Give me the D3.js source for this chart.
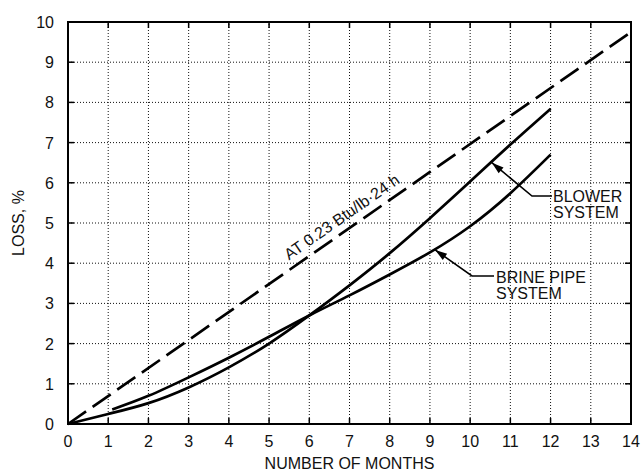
<!DOCTYPE html>
<html lang="en">
<head>
<meta charset="UTF-8">
<title>Loss vs months</title>
<script src="https://d3js.org/d3.v7.min.js"></script>
<style>
  body { margin: 0; background: #fff; }
  svg { display: block; font-family: "Liberation Sans", Arial, sans-serif; }
  .tick-label { font-size: 16px; fill: #111; }
  .grid line { stroke: #111; stroke-width: 1; stroke-dasharray: 1,2; }
  .curve { fill: none; stroke: #000; stroke-width: 2.7; }
</style>
</head>
<body>
<div id="chart"></div>
<script>
// data
const xTicks = d3.range(0, 15);
const yTicks = d3.range(0, 11);

const blowerMonths = [0, 1, 2, 3, 4, 5, 6, 7, 8, 9, 10, 11, 12];
const blowerLoss   = [0, 0.25, 0.52, 0.91, 1.41, 2.0, 2.7, 3.45, 4.25, 5.12, 6.03, 6.95, 7.84];

const brineMonths = [1.1, 2, 3, 4, 5, 6, 7, 8, 9, 10, 11, 12];
const brineLoss   = [0.36, 0.7, 1.16, 1.65, 2.17, 2.7, 3.2, 3.72, 4.27, 4.92, 5.74, 6.7];

const refMonths = [0, 14];
const refLoss   = [0, 9.75];

const width = 642, height = 471;
const margin = {top: 22, right: 11, bottom: 47, left: 68};

const svg = d3.select("#chart").append("svg")
    .attr("width", width)
    .attr("height", height);

const x = d3.scaleLinear().domain([0, 14]).range([margin.left, width - margin.right]);
const y = d3.scaleLinear().domain([0, 10]).range([height - margin.bottom, margin.top]);

// dotted grid
const grid = svg.append("g").attr("class", "grid");
grid.selectAll(".gx").data(xTicks.slice(1, -1)).enter().append("line")
    .attr("x1", d => x(d)).attr("x2", d => x(d))
    .attr("y1", y(0)).attr("y2", y(10));
grid.selectAll(".gy").data(yTicks.slice(1, -1)).enter().append("line")
    .attr("x1", x(0)).attr("x2", x(14))
    .attr("y1", d => y(d)).attr("y2", d => y(d));

// inward ticks on all four sides
const tk = 6;
const ticks = svg.append("g").attr("stroke", "#000").attr("stroke-width", 1.5);
xTicks.slice(1, -1).forEach(d => {
    ticks.append("line").attr("x1", x(d)).attr("x2", x(d)).attr("y1", y(0)).attr("y2", y(0) - tk);
    ticks.append("line").attr("x1", x(d)).attr("x2", x(d)).attr("y1", y(10)).attr("y2", y(10) + tk);
});
yTicks.slice(1, -1).forEach(d => {
    ticks.append("line").attr("x1", x(0)).attr("x2", x(0) + tk).attr("y1", y(d)).attr("y2", y(d));
    ticks.append("line").attr("x1", x(14)).attr("x2", x(14) - tk).attr("y1", y(d)).attr("y2", y(d));
});

// frame
svg.append("rect")
    .attr("x", x(0)).attr("y", y(10))
    .attr("width", x(14) - x(0)).attr("height", y(0) - y(10))
    .attr("fill", "none").attr("stroke", "#000").attr("stroke-width", 2);

// tick labels
svg.selectAll(".xl").data(xTicks).enter().append("text")
    .attr("class", "tick-label")
    .attr("x", d => x(d)).attr("y", y(0) + 23)
    .attr("text-anchor", "middle")
    .text(d => d);
svg.selectAll(".yl").data(yTicks).enter().append("text")
    .attr("class", "tick-label")
    .attr("x", x(0) - 14).attr("y", d => y(d) + 6)
    .attr("text-anchor", "end")
    .text(d => d);

// axis titles
svg.append("text")
    .attr("x", (x(0) + x(14)) / 2).attr("y", height - 2)
    .attr("text-anchor", "middle").attr("font-size", 16).attr("fill", "#111")
    .text("NUMBER OF MONTHS");
svg.append("text")
    .attr("transform", `translate(24,${(y(0) + y(10)) / 2}) rotate(-90)`)
    .attr("text-anchor", "middle").attr("font-size", 16).attr("fill", "#111")
    .text("LOSS, %");

const line = d3.line().x(d => x(d[0])).y(d => y(d[1])).curve(d3.curveNatural);

// reference dashed line
svg.append("path")
    .datum(d3.zip(refMonths, refLoss))
    .attr("class", "curve")
    .attr("stroke-dasharray", "22,8")
    .attr("d", line);

svg.append("path").datum(d3.zip(blowerMonths, blowerLoss)).attr("class", "curve").attr("d", line);
svg.append("path").datum(d3.zip(brineMonths, brineLoss)).attr("class", "curve").attr("d", line);

// label along dashed line, lifted off it perpendicular
const rad = Math.atan2(y(refLoss[1]) - y(0), x(refMonths[1]) - x(0));
const lx = 7.0, ly = lx * refLoss[1] / refMonths[1], off = 8;
svg.append("text")
    .attr("transform", `translate(${x(lx) + off * Math.sin(rad)},${y(ly) - off * Math.cos(rad)}) rotate(${rad * 180 / Math.PI})`)
    .attr("text-anchor", "middle").attr("font-size", 16).attr("fill", "#111")
    .text("AT 0.23 Btu/lb·24 h");

// callouts
function callout(px, py, kx, ky, ex, lines, tx, ty, lh) {
    const g = svg.append("g");
    g.append("path")
        .attr("d", `M${x(px)},${y(py)} L${kx},${ky} L${ex},${ky}`)
        .attr("fill", "none").attr("stroke", "#000").attr("stroke-width", 1.6);
    const a = Math.atan2(ky - y(py), kx - x(px));
    const hx = x(px), hy = y(py), L = 12, W = 3.8;
    const bx = hx + L * Math.cos(a), by = hy + L * Math.sin(a);
    g.append("path")
        .attr("d", `M${hx},${hy} L${bx - W * Math.sin(a)},${by + W * Math.cos(a)} L${bx + W * Math.sin(a)},${by - W * Math.cos(a)} Z`)
        .attr("fill", "#000");
    const t = g.append("text").attr("x", tx).attr("y", ty)
        .attr("font-size", 16).attr("fill", "#111");
    lines.forEach((s, i) => {
        t.append("tspan").attr("x", tx).attr("dy", i ? lh : 0).text(s);
    });
}
callout(10.54, 6.5, 532, 196, 552, ["BLOWER", "SYSTEM"], 553, 202, 15.5);
callout(9.13, 4.33, 472, 276, 494, ["BRINE PIPE", "SYSTEM"], 496, 283, 15.5);
</script>
</body>
</html>
